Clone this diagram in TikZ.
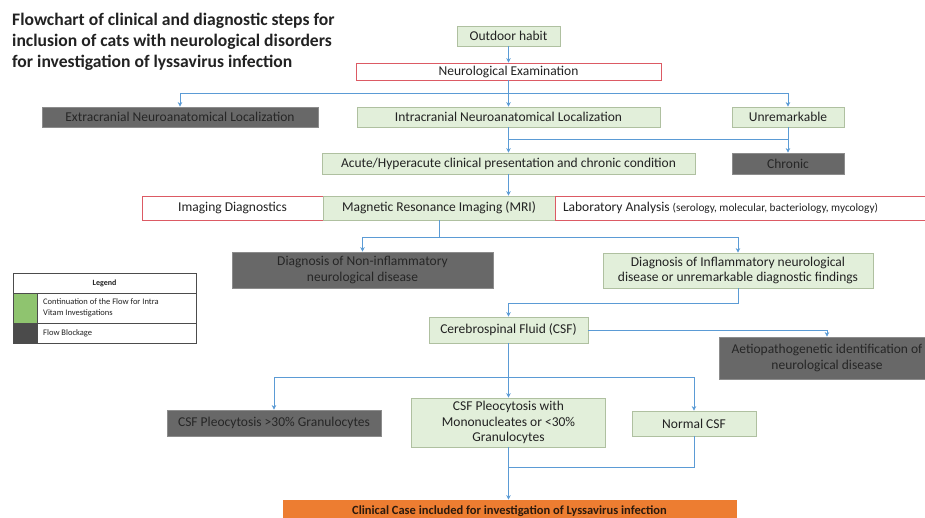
\documentclass[tikz,border=0pt]{standalone}
\usepackage{fontspec}
\setmainfont{Carlito}
\usetikzlibrary{arrows.meta,calc}
\definecolor{gfill}{HTML}{E2EFDA}
\definecolor{gline}{HTML}{AFC0A0}
\definecolor{dfill}{HTML}{686868}
\definecolor{dline}{HTML}{8C8C8C}
\definecolor{dtxt}{HTML}{262626}
\definecolor{rline}{HTML}{DC5A64}
\definecolor{txt}{HTML}{222222}
\definecolor{blu}{HTML}{5B9BD5}
\definecolor{orng}{HTML}{ED7D31}
\definecolor{otxt}{HTML}{2B1A0E}
\definecolor{leggreen}{HTML}{8FC46F}
\definecolor{legdark}{HTML}{4B4B4B}
\tikzset{
  base/.style={draw, inner sep=0pt, font=\fontsize{13.5}{15.5}\selectfont, align=center, line width=0.8pt},
  gbox/.style={base, fill=gfill, draw=gline, text=txt},
  dbox/.style={base, fill=dfill, draw=dline, text=dtxt},
  rbox/.style={base, fill=white, draw=rline, text=txt},
  obox/.style={base, fill=orng, draw=orng, text=otxt, font=\bfseries\fontsize{12.5}{14}\selectfont},
  conn/.style={draw=blu, line width=1pt},
  arr/.style={conn, -{Stealth[length=4.5pt,width=4.5pt]}},
}
\begin{document}
\frenchspacing
\begin{tikzpicture}[x=1pt,y=-1pt]
\useasboundingbox[fill=white] (0,0) rectangle (925,517);
% title
\node[anchor=north west, align=left, text=txt, inner sep=0pt,
      font=\bfseries\fontsize{17.6}{21}\selectfont] (title) at (12,12.5)
  {Flowchart of clinical and diagnostic steps for\\inclusion of cats with neurological disorders\\for investigation of lyssavirus infection};
% boxes
\node[gbox, minimum width=103pt, minimum height=20pt] (outdoor) at (508.5,36) {Outdoor habit};
\node[rbox, minimum width=305pt, minimum height=17pt] (neuro) at (508.5,71.5) {Neurological Examination};
\node[dbox, minimum width=276pt, minimum height=20pt] (extra) at (180,117) {Extracranial Neuroanatomical Localization};
\node[gbox, minimum width=303pt, minimum height=20pt] (intra) at (508.5,117) {Intracranial Neuroanatomical Localization};
\node[gbox, minimum width=112pt, minimum height=20pt] (unrem) at (788,117) {Unremarkable};
\node[gbox, minimum width=373pt, minimum height=21pt] (acute) at (508.5,163.5) {Acute/Hyperacute clinical presentation and chronic condition};
\node[dbox, minimum width=112pt, minimum height=21pt] (chronic) at (788,163.5) {Chronic};
\node[rbox, minimum width=181pt, minimum height=24pt] (imaging) at (232.5,208) {Imaging Diagnostics};
\node[gbox, minimum width=232pt, minimum height=24pt] (mri) at (439,208) {Magnetic Resonance Imaging (MRI)};
\node[rbox, minimum height=24pt, inner xsep=8pt] (lab) at (745,208)
  {\makebox[364pt][l]{Laboratory Analysis {\fontsize{11.3}{13}\selectfont (serology, molecular, bacteriology, mycology)}}};
\node[dbox, minimum width=261pt, minimum height=36pt] (noninf) at (362.5,270) {Diagnosis of Non-inflammatory\\neurological disease};
\node[gbox, minimum width=270pt, minimum height=35pt] (inflam) at (738,270.5) {Diagnosis of Inflammatory neurological\\disease or unremarkable diagnostic findings};
\node[gbox, minimum width=159pt, minimum height=26pt] (csf) at (508.5,330) {Cerebrospinal Fluid (CSF)};
\node[dbox, minimum width=216pt, minimum height=42pt] (aetio) at (827,358) {Aetiopathogenetic identification of\\neurological disease};
\node[dbox, minimum width=214pt, minimum height=26pt] (gran) at (274,423) {CSF Pleocytosis >30\% Granulocytes};
\node[gbox, minimum width=194pt, minimum height=49pt] (mono) at (508.5,422.5) {CSF Pleocytosis with\\Mononucleates or <30\%\\Granulocytes};
\node[gbox, minimum width=124pt, minimum height=25pt] (normal) at (694,423.5) {Normal CSF};
\node[obox, minimum width=453pt, minimum height=22pt] (orange) at (509.5,511) {Clinical Case included for investigation of Lyssavirus infection};
% bus coordinates
\coordinate (bus1) at (0,93);
\coordinate (bus2) at (0,139.5);
\coordinate (bus3) at (0,237);
\coordinate (bus4) at (0,303);
\coordinate (bus5) at (0,377);
\coordinate (bus6) at (0,467);
% connectors
\draw[arr] (outdoor.south) -- (neuro.north);
\draw[arr] (neuro.south) -- (intra.north);
\draw[arr] (neuro.south) -- (neuro.south |- bus1) -| (extra.north);
\draw[arr] (neuro.south) -- (neuro.south |- bus1) -| (unrem.north);
\draw[arr] (intra.south) -- (acute.north);
\draw[arr] (intra.south) -- (intra.south |- bus2) -| (chronic.north);
\draw[conn] (unrem.south) -- (unrem.south |- bus2);
\draw[arr] (acute.south) -- (acute.south |- mri.north);
\draw[arr] (mri.south) -- (mri.south |- bus3) -| (noninf.north);
\draw[arr] (mri.south) -- (mri.south |- bus3) -| (inflam.north);
\draw[arr] (inflam.south) -- (inflam.south |- bus4) -| (csf.north);
\draw[arr] (csf.east) -| (aetio.north);
\draw[arr] (csf.south) -- (csf.south |- bus5) -| (gran.north);
\draw[arr] (csf.south) -- (mono.north);
\draw[arr] (csf.south) -- (csf.south |- bus5) -| (normal.north);
\draw[arr] (mono.south) -- (mono.south |- orange.north);
\draw[conn] (normal.south) |- (mono.south |- bus6);
% legend
\fill[leggreen] (13,293) rectangle (37,323);
\fill[legdark] (13,323) rectangle (37,343);
\draw[line width=0.8pt, draw=black!70] (13,273) rectangle (196,343);
\draw[line width=0.6pt, draw=black!70] (13,293) -- (196,293) (13,323) -- (196,323) (37,293) -- (37,343);
\node[font=\bfseries\fontsize{8}{9}\selectfont, text=txt] (leghead) at (104.5,283) {Legend};
\node[anchor=west, align=left, font=\fontsize{8.5}{10.5}\selectfont, text=txt, inner sep=0pt] (leg1) at (43,308) {Continuation of the Flow for Intra\\Vitam Investigations};
\node[anchor=west, font=\fontsize{8.5}{10}\selectfont, text=txt, inner sep=0pt] (leg2) at (43,333) {Flow Blockage};
\end{tikzpicture}
\end{document}
